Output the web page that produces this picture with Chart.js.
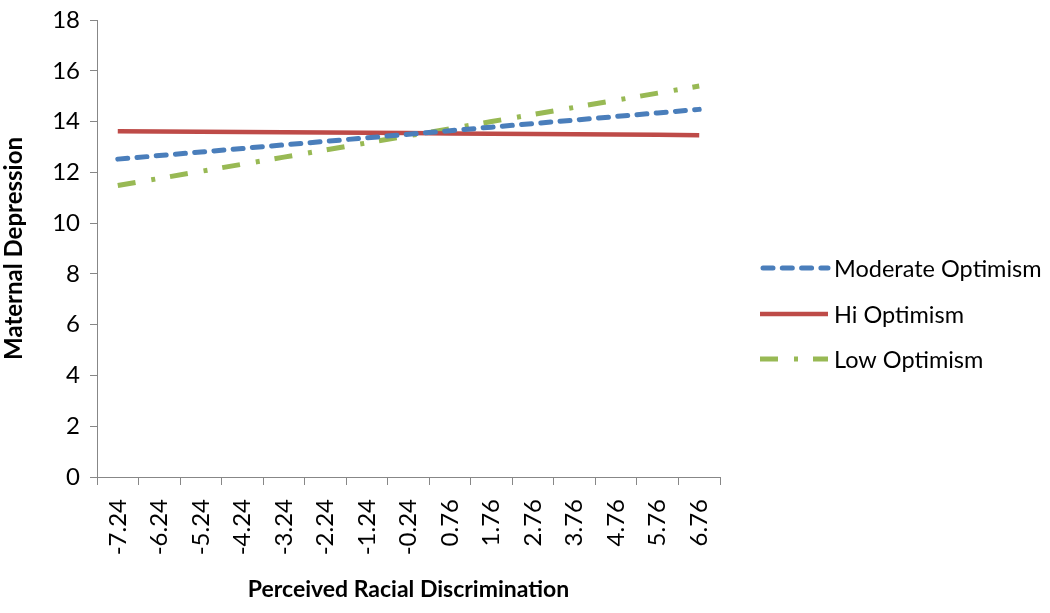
<!DOCTYPE html>
<html>
<head>
<meta charset="utf-8">
<script src="https://cdn.jsdelivr.net/npm/chart.js@4"></script>
<style>
  html, body { margin: 0; padding: 0; background: #fff; }
  canvas { display: block; }
</style>
</head>
<body>
<canvas id="c" width="1050" height="613"></canvas>
<script>
const categories = ["-7.24","-6.24","-5.24","-4.24","-3.24","-2.24","-1.24","-0.24","0.76","1.76","2.76","3.76","4.76","5.76","6.76"];
const moderateOptimism = [12.52,12.66,12.80,12.94,13.08,13.22,13.36,13.50,13.64,13.78,13.92,14.06,14.20,14.34,14.48];
const hiOptimism = [13.62,13.61,13.60,13.59,13.58,13.57,13.56,13.55,13.53,13.52,13.51,13.50,13.49,13.48,13.46];
const lowOptimism = [11.48,11.76,12.04,12.32,12.60,12.88,13.16,13.44,13.72,14.00,14.28,14.56,14.84,15.12,15.40];
const yTicks = [0,2,4,6,8,10,12,14,16,18];

const FONT = "Lato, 'Open Sans', sans-serif";

const legendPlugin = {
  id: 'customLegend',
  afterDraw(chart) {
    const ctx = chart.ctx;
    const rows = [268, 314, 359];
    chart.data.datasets.forEach((ds, i) => {
      const y = rows[i];
      ctx.save();
      ctx.strokeStyle = ds.borderColor;
      ctx.lineWidth = ds.borderWidth;
      ctx.lineCap = ds.borderCapStyle || 'butt';
      ctx.setLineDash(ds.borderDash || []);
      ctx.beginPath();
      const x0 = ds.borderCapStyle === 'round' ? 763 : 760;
      ctx.moveTo(x0, y);
      ctx.lineTo(828, y);
      ctx.stroke();
      ctx.setLineDash([]);
      ctx.fillStyle = '#000';
      ctx.font = "23.5px " + FONT;
      ctx.textBaseline = 'middle';
      ctx.textAlign = 'left';
      ctx.fillText(ds.label, 834, y + 1);
      ctx.restore();
    });
  }
};

new Chart(document.getElementById('c'), {
  type: 'line',
  data: {
    labels: categories,
    datasets: [
      { label: 'Moderate Optimism', data: moderateOptimism, borderColor: '#4A7EBB', borderWidth: 5,
        borderDash: [10, 9.3], borderCapStyle: 'round', pointRadius: 0, tension: 0, fill: false },
      { label: 'Hi Optimism', data: hiOptimism, borderColor: '#BE4B48', borderWidth: 4.5,
        pointRadius: 0, tension: 0, fill: false },
      { label: 'Low Optimism', data: lowOptimism, borderColor: '#98B954', borderWidth: 5,
        borderDash: [18, 16, 4, 15], pointRadius: 0, tension: 0, fill: false }
    ]
  },
  options: {
    responsive: false,
    animation: false,
    devicePixelRatio: 1,
    layout: { padding: { top: 20, right: 330, left: 0, bottom: 0 } },
    plugins: { legend: { display: false }, tooltip: { enabled: false } },
    scales: {
      x: {
        type: 'category',
        offset: true,
        grid: { display: true, drawOnChartArea: false, drawTicks: true, tickLength: 8, offset: true, color: '#878787', lineWidth: 1 },
        border: { display: true, color: '#878787', width: 1 },
        ticks: { minRotation: 90, maxRotation: 90, autoSkip: false, color: '#000', font: { family: FONT, size: 24 }, padding: 14 },
        title: { display: true, text: 'Perceived Racial Discrimination', color: '#000',
                 font: { family: FONT, size: 23, weight: 'bold' }, padding: { top: 18, bottom: 10 } },
        afterFit(scale) { scale.height = 136; scale.paddingLeft = 0; scale.paddingRight = 0; }
      },
      y: {
        min: 0, max: 18,
        afterBuildTicks(scale) { scale.ticks = yTicks.map(v => ({ value: v })); },
        grid: { display: true, drawOnChartArea: false, drawTicks: true, tickLength: 7, color: '#878787', lineWidth: 1 },
        border: { display: true, color: '#878787', width: 1 },
        ticks: { color: '#000', font: { family: FONT, size: 24 }, padding: 10 },
        title: { display: true, text: 'Maternal Depression', color: '#000',
                 font: { family: FONT, size: 24, weight: 'bold' }, padding: { top: 0, bottom: 4 } },
        afterFit(scale) { scale.width = 97; scale.paddingTop = 0; scale.paddingBottom = 0; }
      }
    }
  },
  plugins: [legendPlugin]
});
</script>
</body>
</html>
